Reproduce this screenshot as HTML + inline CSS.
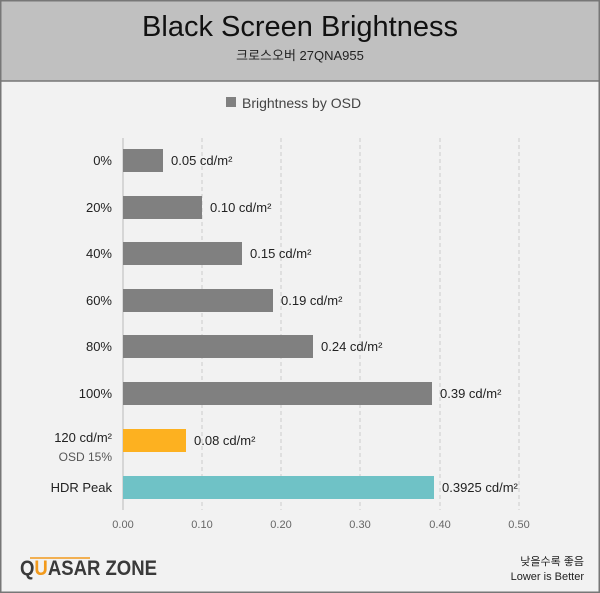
<!DOCTYPE html>
<html><head><meta charset="utf-8"><style>
body{margin:0;width:600px;height:593px;background:#f2f2f2;font-family:"Liberation Sans","Noto Sans CJK KR",sans-serif;overflow:hidden}
svg{display:block}
</style></head><body>
<svg width="600" height="593" xmlns="http://www.w3.org/2000/svg" font-family="Liberation Sans, Noto Sans CJK KR, sans-serif">
<rect x="0" y="0" width="600" height="593" fill="#f2f2f2"/>
<rect x="0" y="0" width="600" height="81" fill="#c0c0c0"/>
<line x1="0" y1="81" x2="600" y2="81" stroke="#777" stroke-width="1.5"/>
<rect x="0.75" y="0.75" width="598.5" height="591.5" fill="none" stroke="#777" stroke-width="1.5"/>
<text x="300" y="36" font-size="29" text-anchor="middle" fill="#111">Black Screen Brightness</text>
<text x="300" y="60" font-size="13" text-anchor="middle" fill="#222">크로스오버 27QNA955</text>
<rect x="226" y="97" width="10" height="10" fill="#808080"/>
<text x="242" y="108" font-size="14" fill="#444">Brightness by OSD</text>
<g stroke="#ccc" stroke-dasharray="4,3">
<line x1="202" y1="138" x2="202" y2="510"/><line x1="281" y1="138" x2="281" y2="510"/>
<line x1="360" y1="138" x2="360" y2="510"/><line x1="440" y1="138" x2="440" y2="510"/>
<line x1="519" y1="138" x2="519" y2="510"/>
</g>
<line x1="123" y1="138" x2="123" y2="510" stroke="#bbb"/>
<g fill="#808080">
<rect x="123" y="149" width="40" height="23"/>
<rect x="123" y="196" width="79" height="23"/>
<rect x="123" y="242" width="119" height="23"/>
<rect x="123" y="289" width="150" height="23"/>
<rect x="123" y="335" width="190" height="23"/>
<rect x="123" y="382" width="309" height="23"/>
</g>
<rect x="123" y="429" width="63" height="23" fill="#fdb120"/>
<rect x="123" y="476" width="311" height="23" fill="#6fc2c6"/>
<g font-size="13" fill="#222">
<text x="171" y="165">0.05 cd/m²</text>
<text x="210" y="212">0.10 cd/m²</text>
<text x="250" y="258">0.15 cd/m²</text>
<text x="281" y="305">0.19 cd/m²</text>
<text x="321" y="351">0.24 cd/m²</text>
<text x="440" y="398">0.39 cd/m²</text>
<text x="194" y="445">0.08 cd/m²</text>
<text x="442" y="492">0.3925 cd/m²</text>
</g>
<g font-size="13" fill="#222" text-anchor="end">
<text x="112" y="165">0%</text>
<text x="112" y="212">20%</text>
<text x="112" y="258">40%</text>
<text x="112" y="305">60%</text>
<text x="112" y="351">80%</text>
<text x="112" y="398">100%</text>
<text x="112" y="442">120 cd/m²</text>
<text x="112" y="461" fill="#555" font-size="12">OSD 15%</text>
<text x="112" y="492">HDR Peak</text>
</g>
<g font-size="11" fill="#666" text-anchor="middle">
<text x="123" y="528">0.00</text><text x="202" y="528">0.10</text><text x="281" y="528">0.20</text>
<text x="360" y="528">0.30</text><text x="440" y="528">0.40</text><text x="519" y="528">0.50</text>
</g>
<text x="20" y="575" font-size="21" font-weight="bold" fill="#3a3a3a" textLength="137" lengthAdjust="spacingAndGlyphs">Q<tspan fill="#f29a1c">U</tspan>ASAR ZONE</text>
<line x1="30" y1="558" x2="90" y2="558" stroke="#f29a1c" stroke-width="1.5"/>
<g font-size="11" fill="#222" text-anchor="end">
<text x="584" y="565">낮을수록 좋음</text>
<text x="584" y="580">Lower is Better</text>
</g>
</svg>
</body></html>
